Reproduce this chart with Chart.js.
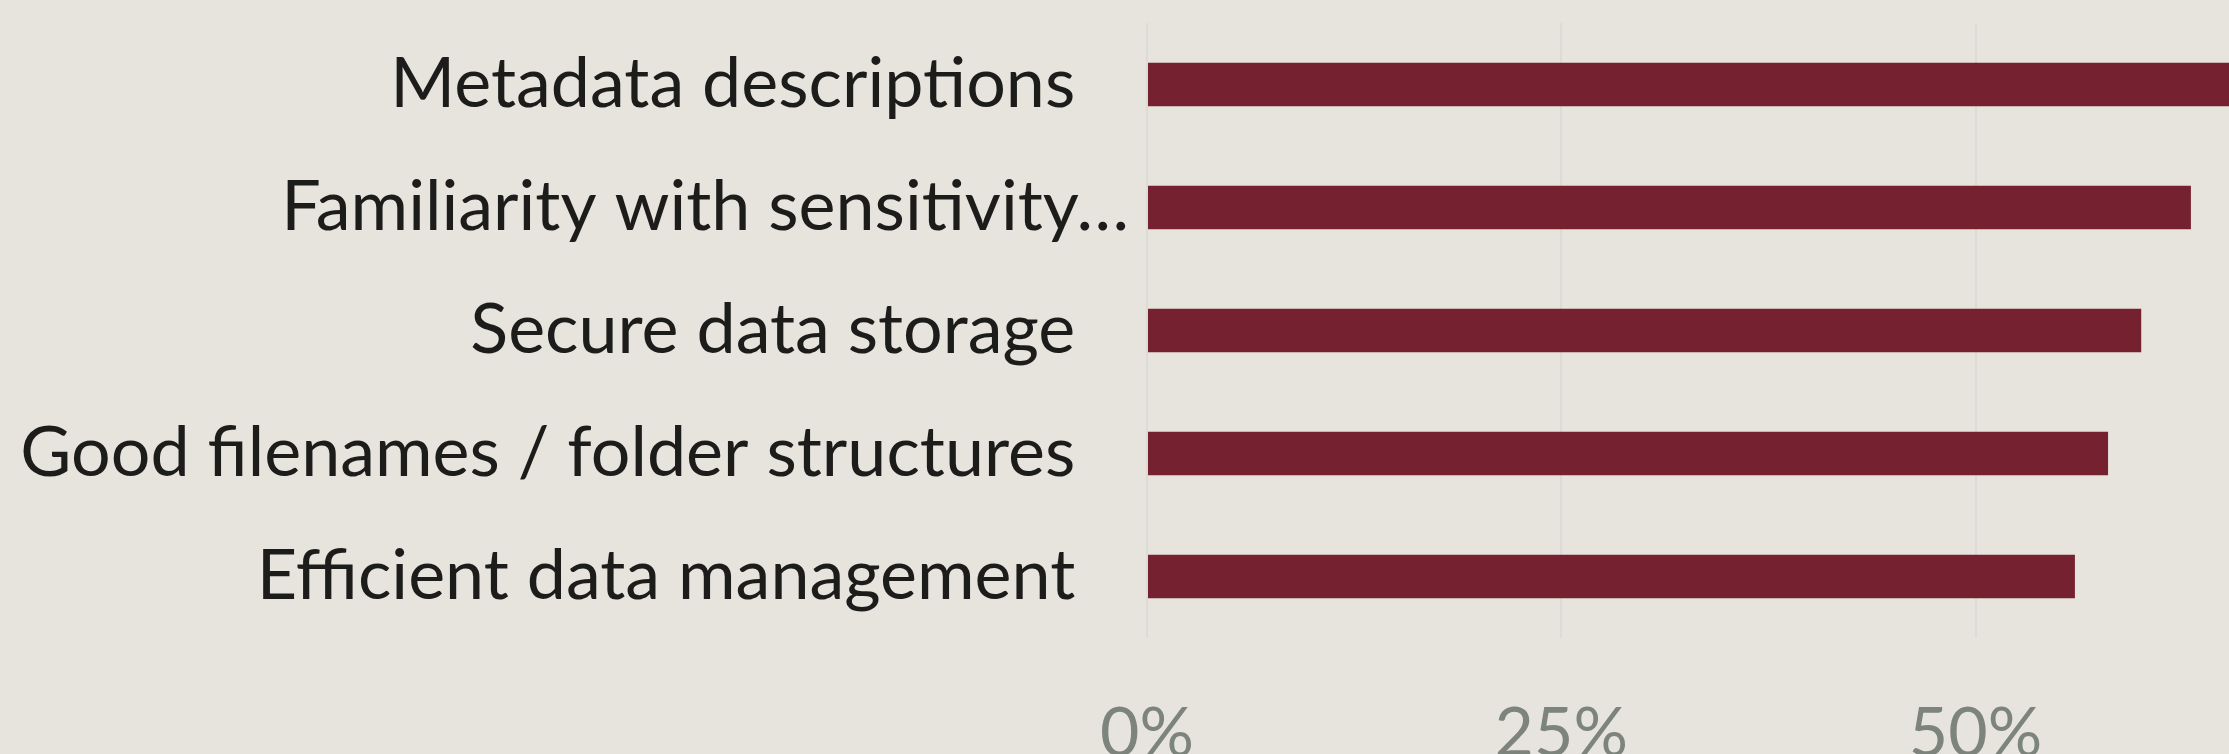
<!DOCTYPE html>
<html>
<head>
<meta charset="utf-8">
<script src="https://cdn.jsdelivr.net/npm/chart.js@4.4.1/dist/chart.umd.min.js"></script>
<style>
  html, body { margin: 0; padding: 0; background: #E7E4DE; overflow: hidden; width: 2229px; height: 754px; }
  #wrap { position: absolute; left: 0; top: 0; width: 3004px; height: 800px; }
  canvas { display: block; }
</style>
</head>
<body>
<div id="wrap"><canvas id="c" width="3004" height="800"></canvas></div>
<script>
const categories = [
  "Metadata descriptions",
  "Familiarity with sensitivity…",
  "Secure data storage",
  "Good filenames / folder structures",
  "Efficient data management"
];
const shareValues = [67, 63, 60, 58, 56];
const tickValues = [0, 25, 50, 75, 100];

const FONT = "Lato";

new Chart(document.getElementById('c'), {
  type: 'bar',
  data: {
    labels: categories,
    datasets: [{
      data: shareValues,
      backgroundColor: '#76212F',
      borderWidth: 0,
      categoryPercentage: 1,
      barPercentage: 0.354
    }]
  },
  options: {
    indexAxis: 'y',
    responsive: false,
    animation: false,
    devicePixelRatio: 1,
    layout: { padding: { top: 23, left: 0, right: 200, bottom: 0 } },
    plugins: { legend: { display: false }, tooltip: { enabled: false } },
    scales: {
      x: {
        min: 0, max: 100,
        afterBuildTicks: (s) => { s.ticks = tickValues.map(v => ({ value: v })); },
        afterFit: (s) => { s.height = 162; s.paddingLeft = 0; s.paddingRight = 0; },
        border: { display: false },
        grid: { color: '#DCDBD5', lineWidth: 2, drawTicks: false },
        ticks: {
          padding: 55,
          color: '#7D847C',
          font: { family: FONT, size: 68 },
          callback: (v) => v + '%'
        }
      },
      y: {
        afterFit: (s) => { s.width = 1147; s.paddingTop = 0; s.paddingBottom = 0; },
        border: { display: false },
        grid: { display: false, drawTicks: false },
        ticks: {
          padding: 18,
          color: '#1C1C1A',
          font: { family: FONT, size: 70 },
          callback: function (v) {
            const t = this.getLabelForValue(v);
            return t.endsWith('…') ? t : t + '   ';
          }
        }
      }
    }
  }
});
</script>
</body>
</html>
